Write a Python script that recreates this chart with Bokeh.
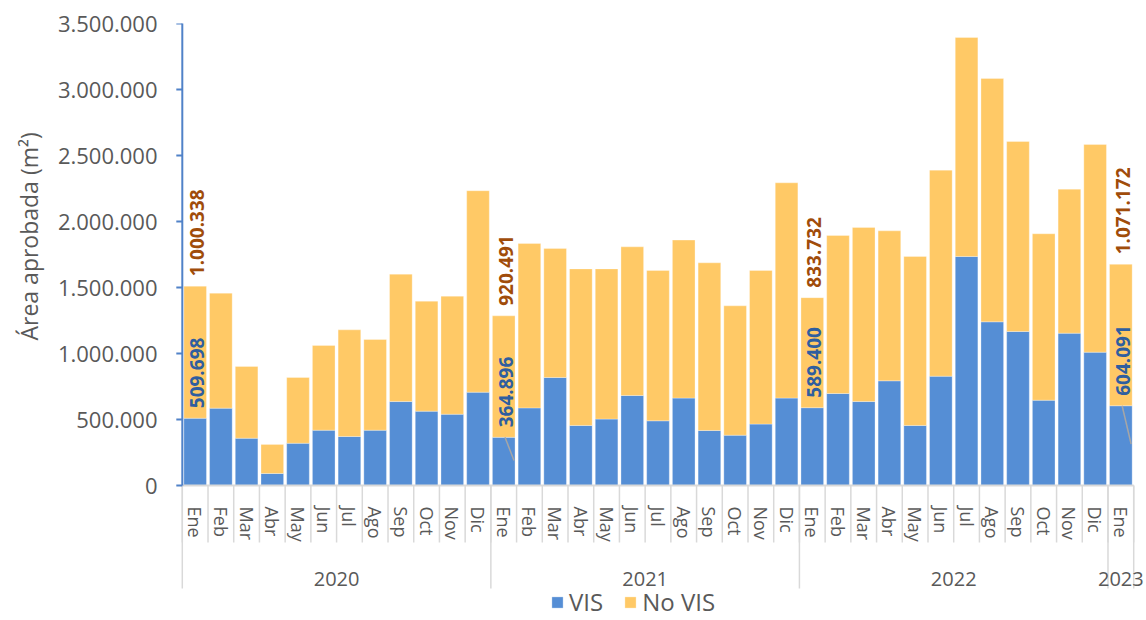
import math
from bokeh.plotting import figure
from bokeh.models import (ColumnDataSource, FactorRange, FixedTicker, CategoricalAxis,
                          CustomJSTickFormatter, Range1d, Title)
from bokeh.core.properties import value
from bokeh.embed import file_html
from bokeh.resources import INLINE

# ---------------- data ----------------
months = ["Ene", "Feb", "Mar", "Abr", "May", "Jun", "Jul", "Ago", "Sep", "Oct", "Nov", "Dic"]
years = ["2020", "2021", "2022", "2023"]
months_per_year = [12, 12, 12, 1]

vis = [509698, 586000, 358000, 91000, 320000, 419000, 371000, 419000, 636000, 563000, 540000, 707000,
       364896, 588000, 818000, 455000, 503000, 682000, 490000, 662000, 417000, 381000, 465000, 662000,
       589400, 697000, 636000, 793000, 455000, 828000, 1735000, 1240000, 1167000, 646000, 1154000, 1010000,
       604091]
no_vis = [1000338, 871000, 544000, 220000, 498000, 642000, 808000, 687000, 965000, 833000, 894000, 1526000,
          920491, 1245000, 977000, 1186000, 1138000, 1126000, 1139000, 1197000, 1270000, 980000, 1164000, 1631000,
          833732, 1197000, 1319000, 1136000, 1280000, 1561000, 1659000, 1843000, 1439000, 1261000, 1091000, 1573000,
          1071172]
y_ticks = [0, 500000, 1000000, 1500000, 2000000, 2500000, 3000000, 3500000]
series_names = ["VIS", "No VIS"]
y_title = "Área aprobada (m²)"
leader_labels = [("2021", "Ene"), ("2023", "Ene")]

# ---------------- styling ----------------
BLUE = "#558ED5"
YELLOW = "#FFC966"
GRAY = "#595959"
SEP = "#D9D9D9"
AXIS_BLUE = "#5082C8"
FONT = "Open Sans"
PX_PER_M = 132.0                 # vertical pixels per 1,000,000
PX = 1e6 / PX_PER_M              # data units per pixel
PAD = 0.42                       # factor units of padding each side
W, H = 1144, 618
LEFT, TOP = 170, 23
FRAME_W = W - LEFT
UNIT_PX = FRAME_W / (37 + 2 * PAD)   # pixels per factor

factors = [(y, months[i]) for y, n in zip(years, months_per_year) for i in range(n)]

src = ColumnDataSource(dict(x=factors, vis=vis, no_vis=no_vis))

frame_h = H - TOP
y_top = y_ticks[-1]
y_bottom = -(frame_h * PX - y_top)

p = figure(width=W, height=H, output_backend="svg", toolbar_location=None,
           x_range=FactorRange(*factors, factor_padding=0, subgroup_padding=0,
                               group_padding=0, range_padding=PAD, range_padding_units="absolute"),
           y_range=Range1d(y_bottom, y_top),
           min_border_left=LEFT, min_border_right=0, min_border_top=TOP, min_border_bottom=0,
           title=None)
p.outline_line_color = None
p.xgrid.visible = False
p.ygrid.visible = False
p.background_fill_color = "white"

p.vbar_stack(["vis", "no_vis"], x="x", width=0.88, color=[BLUE, YELLOW], source=src,
             line_color="white", line_width=0.6, line_alpha=0.5,
             legend_label=series_names)

first_b = factors[0] + (-0.5,)
last_b = factors[-1] + (0.5,)

# ---------------- separators in axis area ----------------
bounds = [f + (-0.5,) for f in factors] + [last_b]
p.segment(x0=bounds, x1=bounds, y0=[0] * len(bounds), y1=[-57 * PX] * len(bounds),
          line_color=SEP, line_width=1.5)
year_bounds = [(y, "Ene", -0.5) for y in years] + [last_b]
p.segment(x0=year_bounds, x1=year_bounds, y0=[0] * len(year_bounds), y1=[-103 * PX] * len(year_bounds),
          line_color=SEP, line_width=1.5)
# category axis line
p.segment(x0=[first_b], x1=[last_b], y0=[0], y1=[0], line_color=SEP, line_width=2)

# value axis line and ticks
p.segment(x0=[first_b], x1=[first_b], y0=[0], y1=[y_top + 2 * PX], line_color=AXIS_BLUE, line_width=2)
tick_b = factors[0] + (-0.5 - 6 / UNIT_PX,)
p.segment(x0=[tick_b] * len(y_ticks), x1=[first_b] * len(y_ticks), y0=y_ticks, y1=y_ticks,
          line_color=AXIS_BLUE, line_width=2)

# ---------------- labels for "Ene" bars ----------------
lx, ly_vis, ly_tot, t_vis, t_nov = [], [], [], [], []
for f, v, n in zip(factors, vis, no_vis):
    if f[1] == "Ene":
        lx.append(f)
        ly_vis.append(v)
        ly_tot.append(v + n)
        t_vis.append(f"{v:,}".replace(",", "."))
        t_nov.append(f"{n:,}".replace(",", "."))
lab = ColumnDataSource(dict(x=lx, yv=ly_vis, yt=ly_tot, tv=t_vis, tn=t_nov))
common = dict(angle=math.pi / 2, text_align="left", text_baseline="middle",
              text_font=value(FONT), text_font_style="bold", text_font_size="19px",
              x_offset=2, y_offset=-10, source=lab)
p.text(x="x", y="yv", text="tv", text_color="#2F5E9F", **common)
p.text(x="x", y="yt", text="tn", text_color="#A04C0A", **common)

# leader lines
lead_x0, lead_x1, lead_y0, lead_y1 = [], [], [], []
for f, v in zip(factors, vis):
    if f in leader_labels:
        lead_x0.append(f + (0.05,))
        lead_x1.append(f + (0.4,))
        lead_y0.append(v)
        lead_y1.append(v * 0.52)
p.segment(x0=lead_x0, x1=lead_x1, y0=lead_y0, y1=lead_y1, line_color="#A6A6A6", line_width=1.5)

# ---------------- y axis (labels only) ----------------
ya = p.yaxis[0]
ya.ticker = FixedTicker(ticks=y_ticks)
ya.bounds = (0, y_top)
ya.formatter = CustomJSTickFormatter(code="""
  return Math.round(tick).toString().replace(/\\B(?=(\\d{3})+(?!\\d))/g, '.');
""")
ya.axis_line_color = None
ya.major_tick_line_color = None
ya.major_tick_out = 0
ya.major_tick_in = 0
ya.minor_tick_line_color = None
ya.major_label_text_font = FONT
ya.major_label_text_font_size = "22px"
ya.major_label_text_color = GRAY
ya.major_label_standoff = 14

p.add_layout(Title(text=y_title, align="left", offset=H - 340, standoff=20,
                   text_font=FONT, text_font_size="23px", text_font_style="normal",
                   text_color=GRAY), "left")

# ---------------- x axis (months) ----------------
xa = p.xaxis[0]
xa.fixed_location = 0
xa.axis_line_color = None
xa.major_tick_line_color = None
xa.minor_tick_line_color = None
xa.major_label_orientation = "vertical"
xa.major_label_text_font = FONT
xa.major_label_text_font_size = "18px"
xa.major_label_text_color = GRAY
xa.major_label_standoff = 15
xa.group_text_color = None
xa.group_text_font_size = "0px"
xa.separator_line_color = None

# year labels on a second axis sharing the same range
xa2 = CategoricalAxis(fixed_location=-80 * PX,
                      axis_line_color=None, major_tick_line_color=None, minor_tick_line_color=None,
                      major_label_text_font_size="0px", major_label_text_color=None,
                      major_label_standoff=0, separator_line_color=None,
                      group_text_font=FONT, group_text_font_size="20px", group_text_color=GRAY,
                      group_text_font_style="normal")
p.add_layout(xa2, "below")

# ---------------- legend ----------------
lg = p.legend[0]
lg.orientation = "horizontal"
lg.location = (549 - LEFT, 0)
lg.border_line_color = None
lg.background_fill_color = None
lg.padding = 0
lg.margin = 0
lg.spacing = 20
lg.label_standoff = 5
lg.glyph_width = 14
lg.glyph_height = 14
lg.label_text_font = FONT
lg.label_text_font_size = "24px"
lg.label_text_color = GRAY

open("out.html", "w").write(file_html(p, INLINE))
